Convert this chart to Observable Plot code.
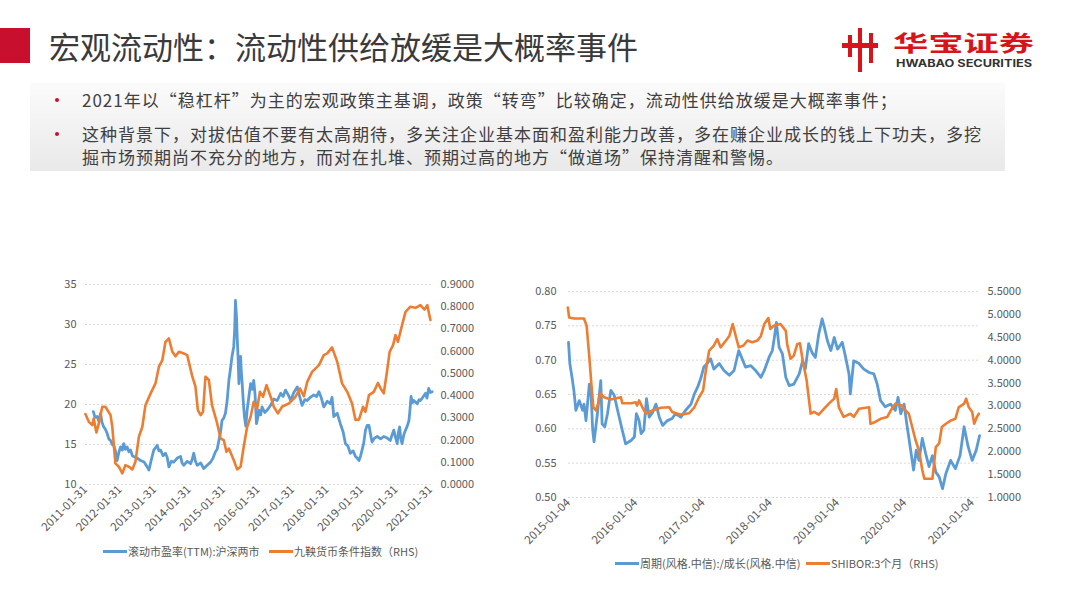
<!DOCTYPE html>
<html><head><meta charset="utf-8">
<script src="https://cdn.jsdelivr.net/npm/d3@7"></script>
<script src="https://cdn.jsdelivr.net/npm/@observablehq/plot@0.6"></script>
<style>
html,body{margin:0;padding:0;}
body{width:1080px;height:603px;background:#fff;position:relative;overflow:hidden;font-family:"Noto Sans CJK SC","Noto Sans",sans-serif;color:#404040;}
.abs{position:absolute;}
.bl{position:absolute;left:82px;font-size:17px;line-height:23px;white-space:nowrap;color:#404040;letter-spacing:1px;}
.dot{position:absolute;width:4px;height:4px;border-radius:2px;background:#c8102e;}
.leg{position:absolute;font-size:11px;color:#595959;white-space:nowrap;display:flex;align-items:center;}
.leg i{display:inline-block;width:24px;height:3px;margin-right:1px;}
</style></head><body>
<div class="abs" style="left:0;top:28px;width:30px;height:35px;background:#c8102e"></div>
<div class="abs" id="title" style="left:49px;top:27px;font-size:31px;line-height:37px;color:#3a3a3a;white-space:nowrap;"></div>
<svg class="abs" style="left:0;top:0" width="1080" height="90">
  <g fill="#d7141a">
    <rect x="842" y="43" width="36" height="5"/>
    <rect x="848" y="35" width="4" height="22"/>
    <rect x="858" y="28" width="4" height="44"/>
    <rect x="869" y="33" width="4" height="30"/>
  </g>
  <text x="893" y="51" font-size="22" font-weight="bold" fill="#d7141a" textLength="141" lengthAdjust="spacingAndGlyphs" font-family="Noto Sans CJK SC">华宝证券</text>
  <text x="896" y="67" font-size="10" font-weight="bold" fill="#333" textLength="136" lengthAdjust="spacingAndGlyphs" font-family="Inter, sans-serif">HWABAO SECURITIES</text>
</svg>
<div class="abs" style="left:30px;top:83px;width:975px;height:88px;background:linear-gradient(to bottom,#fbfbfb,#e9e9e9);"></div>
<div class="dot" style="left:55px;top:98px"></div>
<div class="dot" style="left:55px;top:132px"></div>
<div class="bl" id="b1" style="top:88px"></div>
<div class="bl" id="b2" style="top:122px"></div>
<div class="bl" id="b3" style="top:145px"></div>
<div class="abs" id="c1" style="left:40px;top:270px;width:450px;height:270px"></div>
<div class="abs" id="c2" style="left:520px;top:270px;width:500px;height:300px"></div>
<div class="leg" style="left:103px;top:543px"><i style="background:#5B9BD5"></i><span id="l1"></span></div>
<div class="leg" style="left:269px;top:543px"><i style="background:#ED7D31"></i><span id="l2"></span></div>
<div class="leg" style="left:615px;top:555px"><i style="background:#5B9BD5"></i><span id="l3"></span></div>
<div class="leg" style="left:806px;top:555px"><i style="background:#ED7D31"></i><span id="l4"></span></div>
<script>
// ---- texts ----
const titleText = "宏观流动性：流动性供给放缓是大概率事件";
const bullet1 = "2021年以“稳杠杆”为主的宏观政策主基调，政策“转弯”比较确定，流动性供给放缓是大概率事件；";
const bullet2a = "这种背景下，对拔估值不要有太高期待，多关注企业基本面和盈利能力改善，多在赚企业成长的钱上下功夫，多挖";
const bullet2b = "掘市场预期尚不充分的地方，而对在扎堆、预期过高的地方“做道场”保持清醒和警惕。";
const legend1 = ["滚动市盈率(TTM):沪深两市", "九鞅货币条件指数（RHS)"];
const legend2 = ["周期(风格.中信):/成长(风格.中信)", "SHIBOR:3个月（RHS)"];

// ---- chart 1 data (decimal years) ----
const c1TickLabels = ["2011-01-31","2012-01-31","2013-01-31","2014-01-31","2015-01-31","2016-01-31","2017-01-31","2018-01-31","2019-01-31","2020-01-31","2021-01-31"];
const c1LeftTicks = [10,15,20,25,30,35];
const c1RightTicks = [0,0.1,0.2,0.3,0.4,0.5,0.6,0.7,0.8,0.9];
const peT = [2011.31,2011.36,2011.42,2011.47,2011.52,2011.56,2011.61,2011.66,2011.71,2011.76,2011.81,2011.86,2011.90,2011.95,2012.00,2012.05,2012.10,2012.15,2012.19,2012.24,2012.29,2012.34,2012.39,2012.44,2012.48,2012.58,2012.68,2012.78,2012.87,2012.92,2012.98,2013.06,2013.11,2013.16,2013.21,2013.26,2013.33,2013.40,2013.45,2013.50,2013.57,2013.64,2013.74,2013.84,2013.88,2013.93,2014.03,2014.13,2014.18,2014.22,2014.27,2014.32,2014.42,2014.51,2014.61,2014.71,2014.78,2014.85,2014.90,2014.95,2015.00,2015.04,2015.09,2015.14,2015.19,2015.24,2015.29,2015.33,2015.38,2015.41,2015.43,2015.46,2015.48,2015.51,2015.53,2015.56,2015.58,2015.60,2015.62,2015.66,2015.69,2015.73,2015.77,2015.82,2015.87,2015.92,2015.96,2016.00,2016.04,2016.08,2016.11,2016.16,2016.20,2016.28,2016.35,2016.45,2016.54,2016.64,2016.74,2016.81,2016.88,2016.96,2017.03,2017.12,2017.22,2017.29,2017.36,2017.44,2017.51,2017.60,2017.70,2017.78,2017.85,2017.92,2017.99,2018.09,2018.18,2018.23,2018.28,2018.38,2018.47,2018.55,2018.62,2018.69,2018.76,2018.84,2018.91,2018.96,2019.01,2019.06,2019.10,2019.15,2019.20,2019.25,2019.30,2019.35,2019.39,2019.46,2019.54,2019.64,2019.73,2019.83,2019.92,2019.97,2020.02,2020.07,2020.12,2020.15,2020.19,2020.22,2020.26,2020.31,2020.36,2020.41,2020.46,2020.49,2020.52,2020.56,2020.60,2020.65,2020.70,2020.75,2020.79,2020.86,2020.94,2020.98,2021.03,2021.08,2021.13];
const peV = [19.1,18.4,18.5,17.9,18.9,17.8,17.2,16.9,16.4,15.7,15.5,15.0,14.9,14.2,13.0,14.0,14.7,14.3,15.1,14.4,14.7,14.1,14.3,13.6,13.5,13.3,13.0,12.8,12.2,11.8,12.9,14.3,14.6,14.9,14.2,14.3,13.6,13.9,13.4,12.2,12.9,12.8,13.3,13.5,12.7,12.4,12.9,12.6,13.2,13.9,12.9,12.4,12.7,12.0,12.4,12.8,13.3,14.1,14.4,15.5,16.6,18.0,18.3,18.9,20.5,23.0,24.6,26.0,27.2,29.5,33.0,31.0,28.5,25.5,22.6,25.3,26.0,24.1,23.0,20.2,18.5,17.3,19.3,21.0,22.6,21.9,23.0,21.2,17.6,18.4,19.3,18.7,19.7,19.0,19.3,19.9,20.7,20.5,21.4,21.0,21.8,21.2,20.5,21.5,22.2,21.0,19.9,20.6,20.5,20.9,21.2,21.0,21.6,20.8,19.7,20.4,20.1,20.9,18.5,18.9,17.6,16.6,15.1,14.8,13.9,14.2,13.5,13.3,13.0,13.6,14.3,15.2,16.8,17.4,17.4,16.2,15.3,15.8,16.0,15.7,16.0,15.8,15.5,16.2,16.8,15.9,15.1,16.4,17.2,15.8,15.1,16.2,16.8,17.3,18.0,19.4,21.0,20.2,20.5,20.3,20.1,20.6,20.5,20.9,21.4,20.8,22.0,21.5,21.6];
const mciT = [2011.08,2011.18,2011.28,2011.32,2011.40,2011.47,2011.57,2011.66,2011.81,2011.86,2011.95,2012.05,2012.15,2012.24,2012.34,2012.44,2012.53,2012.63,2012.73,2012.82,2012.97,2013.11,2013.21,2013.31,2013.40,2013.50,2013.60,2013.69,2013.79,2013.93,2014.03,2014.18,2014.27,2014.34,2014.42,2014.49,2014.56,2014.66,2014.75,2014.90,2015.00,2015.09,2015.17,2015.24,2015.38,2015.48,2015.58,2015.67,2015.77,2015.87,2015.96,2016.06,2016.14,2016.23,2016.33,2016.45,2016.54,2016.66,2016.78,2016.98,2017.17,2017.30,2017.41,2017.51,2017.65,2017.85,2017.99,2018.09,2018.23,2018.38,2018.52,2018.67,2018.81,2018.91,2019.01,2019.13,2019.20,2019.30,2019.44,2019.56,2019.64,2019.73,2019.83,2019.90,2020.00,2020.07,2020.14,2020.26,2020.36,2020.50,2020.65,2020.79,2020.91,2020.99,2021.08];
const mciV = [0.317,0.282,0.267,0.297,0.234,0.275,0.35,0.35,0.312,0.26,0.095,0.08,0.05,0.087,0.08,0.068,0.102,0.215,0.26,0.357,0.41,0.455,0.53,0.56,0.642,0.657,0.597,0.577,0.597,0.59,0.582,0.485,0.44,0.335,0.312,0.327,0.485,0.47,0.357,0.275,0.207,0.2,0.147,0.162,0.11,0.068,0.08,0.17,0.26,0.305,0.372,0.342,0.417,0.395,0.447,0.395,0.35,0.32,0.35,0.365,0.395,0.432,0.397,0.462,0.507,0.537,0.582,0.59,0.617,0.552,0.455,0.417,0.365,0.29,0.292,0.35,0.327,0.402,0.417,0.457,0.432,0.41,0.515,0.597,0.627,0.672,0.642,0.717,0.777,0.8,0.795,0.807,0.787,0.807,0.74];

// ---- chart 2 data ----
const c2TickLabels = ["2015-01-04","2016-01-04","2017-01-04","2018-01-04","2019-01-04","2020-01-04","2021-01-04"];
const c2LeftTicks = [0.50,0.55,0.60,0.65,0.70,0.75,0.80];
const c2RightTicks = [1.0,1.5,2.0,2.5,3.0,3.5,4.0,4.5,5.0,5.5];
const ratioT = [2015.01,2015.03,2015.07,2015.09,2015.12,2015.17,2015.22,2015.24,2015.27,2015.32,2015.34,2015.37,2015.39,2015.44,2015.49,2015.51,2015.55,2015.59,2015.64,2015.69,2015.74,2015.81,2015.86,2015.94,2015.99,2016.02,2016.06,2016.09,2016.13,2016.17,2016.21,2016.26,2016.31,2016.36,2016.41,2016.48,2016.55,2016.60,2016.68,2016.75,2016.83,2016.88,2016.93,2016.98,2017.02,2017.07,2017.12,2017.17,2017.25,2017.32,2017.40,2017.47,2017.54,2017.59,2017.64,2017.72,2017.79,2017.87,2017.92,2017.99,2018.04,2018.07,2018.10,2018.14,2018.19,2018.24,2018.29,2018.36,2018.44,2018.49,2018.53,2018.58,2018.63,2018.68,2018.73,2018.78,2018.82,2018.86,2018.91,2018.96,2019.01,2019.08,2019.13,2019.18,2019.20,2019.25,2019.33,2019.40,2019.48,2019.55,2019.60,2019.65,2019.72,2019.80,2019.87,2019.91,2019.95,2020.00,2020.04,2020.09,2020.14,2020.18,2020.22,2020.27,2020.32,2020.37,2020.42,2020.47,2020.52,2020.57,2020.62,2020.69,2020.76,2020.83,2020.89,2020.95,2021.01,2021.07,2021.12];
const ratioV = [0.726,0.695,0.670,0.656,0.627,0.641,0.627,0.636,0.612,0.665,0.663,0.598,0.581,0.622,0.670,0.607,0.603,0.622,0.656,0.649,0.627,0.598,0.578,0.583,0.588,0.622,0.612,0.593,0.598,0.644,0.617,0.624,0.636,0.617,0.605,0.612,0.615,0.622,0.617,0.627,0.636,0.651,0.661,0.675,0.690,0.695,0.702,0.687,0.695,0.685,0.678,0.685,0.714,0.702,0.690,0.692,0.685,0.675,0.685,0.704,0.714,0.733,0.755,0.719,0.709,0.675,0.663,0.665,0.680,0.699,0.687,0.724,0.711,0.704,0.738,0.760,0.745,0.728,0.714,0.733,0.716,0.726,0.704,0.680,0.651,0.699,0.695,0.687,0.682,0.680,0.665,0.641,0.632,0.636,0.627,0.646,0.622,0.636,0.607,0.574,0.540,0.569,0.554,0.586,0.564,0.545,0.561,0.537,0.530,0.513,0.535,0.554,0.542,0.561,0.603,0.574,0.554,0.569,0.590];
const shiborT = [2015.00,2015.02,2015.09,2015.24,2015.28,2015.32,2015.35,2015.38,2015.42,2015.45,2015.48,2015.54,2015.64,2015.79,2015.81,2015.94,2016.01,2016.03,2016.06,2016.11,2016.16,2016.26,2016.38,2016.51,2016.55,2016.68,2016.80,2016.88,2016.95,2017.01,2017.05,2017.10,2017.17,2017.22,2017.27,2017.35,2017.40,2017.45,2017.50,2017.54,2017.61,2017.67,2017.74,2017.82,2017.87,2017.92,2017.98,2018.01,2018.06,2018.16,2018.24,2018.26,2018.31,2018.36,2018.41,2018.45,2018.50,2018.55,2018.58,2018.61,2018.66,2018.73,2018.81,2018.88,2018.96,2018.99,2019.03,2019.10,2019.20,2019.25,2019.33,2019.48,2019.50,2019.57,2019.65,2019.75,2019.80,2019.87,2019.97,2020.02,2020.07,2020.12,2020.17,2020.22,2020.27,2020.30,2020.42,2020.44,2020.47,2020.52,2020.56,2020.62,2020.69,2020.76,2020.81,2020.89,2020.92,2020.96,2021.01,2021.04,2021.08,2021.11];
const shiborV = [5.15,4.93,4.91,4.91,4.75,4.06,3.48,2.97,2.90,3.05,3.28,3.19,3.14,3.19,3.06,3.06,3.08,3.01,3.12,2.97,2.83,2.90,2.96,2.97,2.87,2.81,2.84,2.97,3.19,3.34,3.77,4.21,4.32,4.46,4.28,4.43,4.53,4.79,4.50,4.28,4.32,4.43,4.39,4.43,4.53,4.79,4.92,4.68,4.75,4.79,4.64,4.35,4.03,4.10,4.35,4.37,3.92,3.56,3.19,2.83,2.87,2.81,2.94,3.05,3.16,3.37,2.97,2.76,2.83,2.76,2.94,2.97,2.61,2.65,2.72,2.76,2.90,3.05,3.01,2.90,2.83,2.54,2.25,2.03,1.60,1.41,1.41,1.67,2.10,2.18,2.54,2.61,2.68,2.72,2.97,3.05,3.16,2.97,2.87,2.61,2.76,2.83];

// ---- helpers ----
function dy(y){const yr=Math.floor(y);const s=Date.UTC(yr,0,1),e=Date.UTC(yr+1,0,1);return new Date(s+(y-yr)*(e-s));}
const toRows=(T,V)=>T.map((t,i)=>({date:dy(t),v:V[i]}));
const fmtDate=d3.utcFormat("%Y-%m-%d");
const FONT='"Noto Sans CJK SC","Noto Sans",sans-serif';
const BLUE="#5B9BD5", ORANGE="#ED7D31", AX="#595959", GRID="#d9d9d9";

document.getElementById("title").textContent=titleText;
document.getElementById("b1").textContent=bullet1;
document.getElementById("b2").textContent=bullet2a;
document.getElementById("b3").textContent=bullet2b;
document.getElementById("l1").textContent=legend1[0];
document.getElementById("l2").textContent=legend1[1];
document.getElementById("l3").textContent=legend2[0];
document.getElementById("l4").textContent=legend2[1];

function dualChart(el, cfg){
  const style={fontFamily:FONT,fontSize:"11px",color:AX,background:"transparent",overflow:"visible"};
  const base=Plot.plot({
    width:cfg.w,height:cfg.h,marginLeft:cfg.ml,marginRight:cfg.mr,marginTop:cfg.mt,marginBottom:cfg.mb,
    style,
    x:{type:"utc",domain:cfg.xDomain},
    y:{domain:cfg.leftDomain},
    marks:[
      Plot.ruleY(cfg.leftTicks,{stroke:GRID,strokeDasharray:"2,2",strokeWidth:1}),
      Plot.axisY({ticks:cfg.leftTicks,tickSize:0,tickPadding:cfg.lpad,label:null,tickFormat:cfg.leftFmt}),
      Plot.axisX({ticks:cfg.xTicks.map(s=>new Date(s)),tickFormat:fmtDate,tickRotate:-45,tickSize:0,tickPadding:3,label:null,fontSize:11.5}),
      Plot.lineY(cfg.leftRows,{x:"date",y:"v",stroke:BLUE,strokeWidth:2.8,curve:"linear"})
    ]
  });
  const over=Plot.plot({
    width:cfg.w,height:cfg.h,marginLeft:cfg.ml,marginRight:cfg.mr,marginTop:cfg.mt,marginBottom:cfg.mb,
    style,
    x:{type:"utc",domain:cfg.xDomain,axis:null},
    y:{domain:cfg.rightDomain},
    marks:[
      Plot.axisY({anchor:"right",ticks:cfg.rightTicks,tickSize:0,tickPadding:cfg.rpad,label:null,tickFormat:d3.format(".4f")}),
      Plot.lineY(cfg.rightRows,{x:"date",y:"v",stroke:ORANGE,strokeWidth:2.6})
    ]
  });
  base.style.position="absolute";base.style.left="0";base.style.top="0";
  over.style.position="absolute";over.style.left="0";over.style.top="0";
  el.appendChild(base);el.appendChild(over);
}

dualChart(document.getElementById("c1"),{
  w:450,h:270,ml:45,mr:58,mt:14,mb:56,lpad:9,rpad:8,
  xDomain:[dy(2011.083),dy(2021.141)],
  leftDomain:[10,35],rightDomain:[0,0.9],
  leftTicks:c1LeftTicks,rightTicks:c1RightTicks,leftFmt:d3.format("d"),
  xTicks:c1TickLabels,
  leftRows:toRows(peT,peV),rightRows:toRows(mciT,mciV)
});
dualChart(document.getElementById("c2"),{
  w:500,h:300,ml:48,mr:42,mt:21,mb:73,lpad:12,rpad:9,
  xDomain:[dy(2015.01),dy(2021.104)],
  leftDomain:[0.5,0.8],rightDomain:[1,5.5],
  leftTicks:c2LeftTicks,rightTicks:c2RightTicks,leftFmt:d3.format(".2f"),
  xTicks:c2TickLabels,
  leftRows:toRows(ratioT,ratioV),rightRows:toRows(shiborT,shiborV)
});
</script>
</body></html>
